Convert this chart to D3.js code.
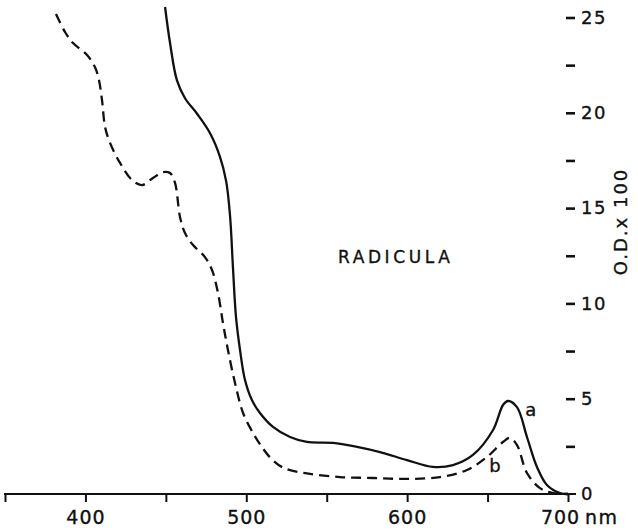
<!DOCTYPE html>
<html>
<head>
<meta charset="utf-8">
<script src="https://cdn.jsdelivr.net/npm/d3@7"></script>
<style>
  html, body { margin: 0; padding: 0; background: #fff; }
  svg { display: block; }
  text { font-family: "DejaVu Sans", sans-serif; fill: #111; stroke: #111; stroke-width: 0.35px; }
</style>
</head>
<body>
<svg id="chart" width="638" height="530"></svg>
<script>
// ---- data (wavelength nm, O.D. x 100) ----
const curveA_nm = [449.5, 452.6, 456.9, 462.0, 469.4, 477.4, 483.7, 487.5, 489.9, 491.7, 493.6, 496.1, 499.2, 503.5, 508.5, 516.6, 527.2, 537.7, 553.9, 568.8, 583.1, 599.9, 616.1, 628.5, 640.9, 653.4, 659.6, 662.7, 668.3, 674.5, 680.7, 686.9, 695.0, 700];
const curveA_od = [25.55, 23.66, 21.70, 20.75, 19.95, 18.94, 17.68, 16.40, 14.60, 11.91, 9.29, 7.56, 5.98, 4.93, 4.25, 3.52, 2.99, 2.73, 2.68, 2.47, 2.20, 1.78, 1.42, 1.52, 2.05, 3.36, 4.67, 4.88, 4.56, 2.99, 1.42, 0.47, 0.05, 0];
const curveB_nm = [381.7, 387.3, 392.3, 401.0, 405.9, 408.4, 410.3, 412.2, 415.3, 421.5, 429.0, 435.2, 442.0, 448.2, 452.6, 455.7, 458.8, 461.9, 466.9, 474.3, 478.7, 482.4, 485.5, 488.6, 493.0, 498.0, 504.2, 509.0, 515.0, 523.0, 537.7, 558.3, 578.8, 599.9, 620.4, 637.2, 649.6, 659.6, 663.9, 668.3, 674.5, 682.6, 690.7, 700];
const curveB_od = [25.18, 24.24, 23.66, 23.03, 22.40, 21.72, 20.67, 19.26, 18.42, 17.37, 16.47, 16.21, 16.58, 16.89, 16.84, 16.32, 14.53, 13.69, 13.06, 12.43, 11.75, 10.55, 8.97, 7.56, 5.82, 4.25, 3.20, 2.55, 1.90, 1.38, 1.08, 0.89, 0.84, 0.79, 0.89, 1.26, 1.94, 2.73, 2.94, 2.57, 1.10, 0.31, 0.05, 0];
const xTicks = [350, 400, 450, 500, 550, 600, 650, 700];
const xTickLabels = ["", "400", "", "500", "", "600", "", "700"];
const yTicks = [0, 2.5, 5, 7.5, 10, 12.5, 15, 17.5, 20, 22.5, 25];
const yTickLabels = ["0", "", "5", "", "10", "", "15", "", "20", "", "25"];
const xUnit = "nm";
const yTitle = "O.D.x 100";
const chartLabel = "RADICULA";
const seriesLabels = ["a", "b"];

// ---- scales ----
const svg = d3.select("#chart");
const x = d3.scaleLinear().domain([350, 700]).range([5, 568]);
const y = d3.scaleLinear().domain([0, 25]).range([494, 17.5]);

// ---- x axis ----
const xAxis = d3.axisBottom(x)
  .tickValues(xTicks)
  .tickFormat((d, i) => xTickLabels[i])
  .tickSize(8)
  .tickPadding(9);
const gx = svg.append("g").attr("transform", `translate(0,${y(0)})`).call(xAxis);
gx.select(".domain").remove();
gx.selectAll(".tick line").attr("stroke", "#111").attr("stroke-width", 2);
gx.selectAll(".tick text").style("font-size", "19px").style("letter-spacing", "1px").attr("fill", "#111");
gx.selectAll(".tick text").filter(d => d === 700).attr("dx", "-8");
svg.append("line")
  .attr("x1", x(350) - 1).attr("x2", x(700) + 8)
  .attr("y1", y(0)).attr("y2", y(0))
  .attr("stroke", "#111").attr("stroke-width", 2.2);
svg.append("text")
  .attr("x", x(700) + 17).attr("y", y(0) + 8 + 9)
  .attr("dy", "0.71em")
  .style("font-size", "19px").style("letter-spacing", "1.5px")
  .text(xUnit);

// ---- y axis (right, ticks only) ----
const yAxis = d3.axisRight(y)
  .tickValues(yTicks)
  .tickFormat((d, i) => yTickLabels[i])
  .tickSize(9)
  .tickPadding(6);
const gy = svg.append("g").attr("transform", `translate(${x(700) - 2},0)`).call(yAxis);
gy.select(".domain").remove();
gy.selectAll(".tick line").attr("stroke", "#111").attr("stroke-width", 2.6)
  .filter(d => d === 0).remove();
gy.selectAll(".tick text").style("font-size", "18px").style("letter-spacing", "1.5px").attr("fill", "#111");

svg.append("text")
  .attr("transform", `translate(621,${y(14.3)}) rotate(-90)`)
  .attr("text-anchor", "middle")
  .attr("dy", "0.35em")
  .style("font-size", "18px").style("letter-spacing", "2px")
  .text(yTitle);

// ---- curves ----
const line = d3.line()
  .x(d => x(d[0]))
  .y(d => y(d[1]))
  .curve(d3.curveCatmullRom.alpha(0.5));

const dataA = curveA_nm.map((v, i) => [v, curveA_od[i]]);
const dataB = curveB_nm.map((v, i) => [v, curveB_od[i]]);

svg.append("path").datum(dataB)
  .attr("d", line)
  .attr("fill", "none").attr("stroke", "#111")
  .attr("stroke-width", 2.3)
  .attr("stroke-dasharray", "10,6");

svg.append("path").datum(dataA)
  .attr("d", line)
  .attr("fill", "none").attr("stroke", "#111")
  .attr("stroke-width", 2.3);

// ---- labels ----
svg.append("text")
  .attr("x", x(673.5)).attr("y", y(4.1))
  .style("font-size", "18px")
  .text(seriesLabels[0]);
svg.append("text")
  .attr("x", x(651)).attr("y", y(1.15))
  .style("font-size", "18px")
  .text(seriesLabels[1]);

svg.append("text")
  .attr("x", x(557)).attr("y", y(12.45))
  .attr("dy", "0.35em")
  .style("font-size", "17px").style("letter-spacing", "3.6px")
  .text(chartLabel);
</script>
</body>
</html>
